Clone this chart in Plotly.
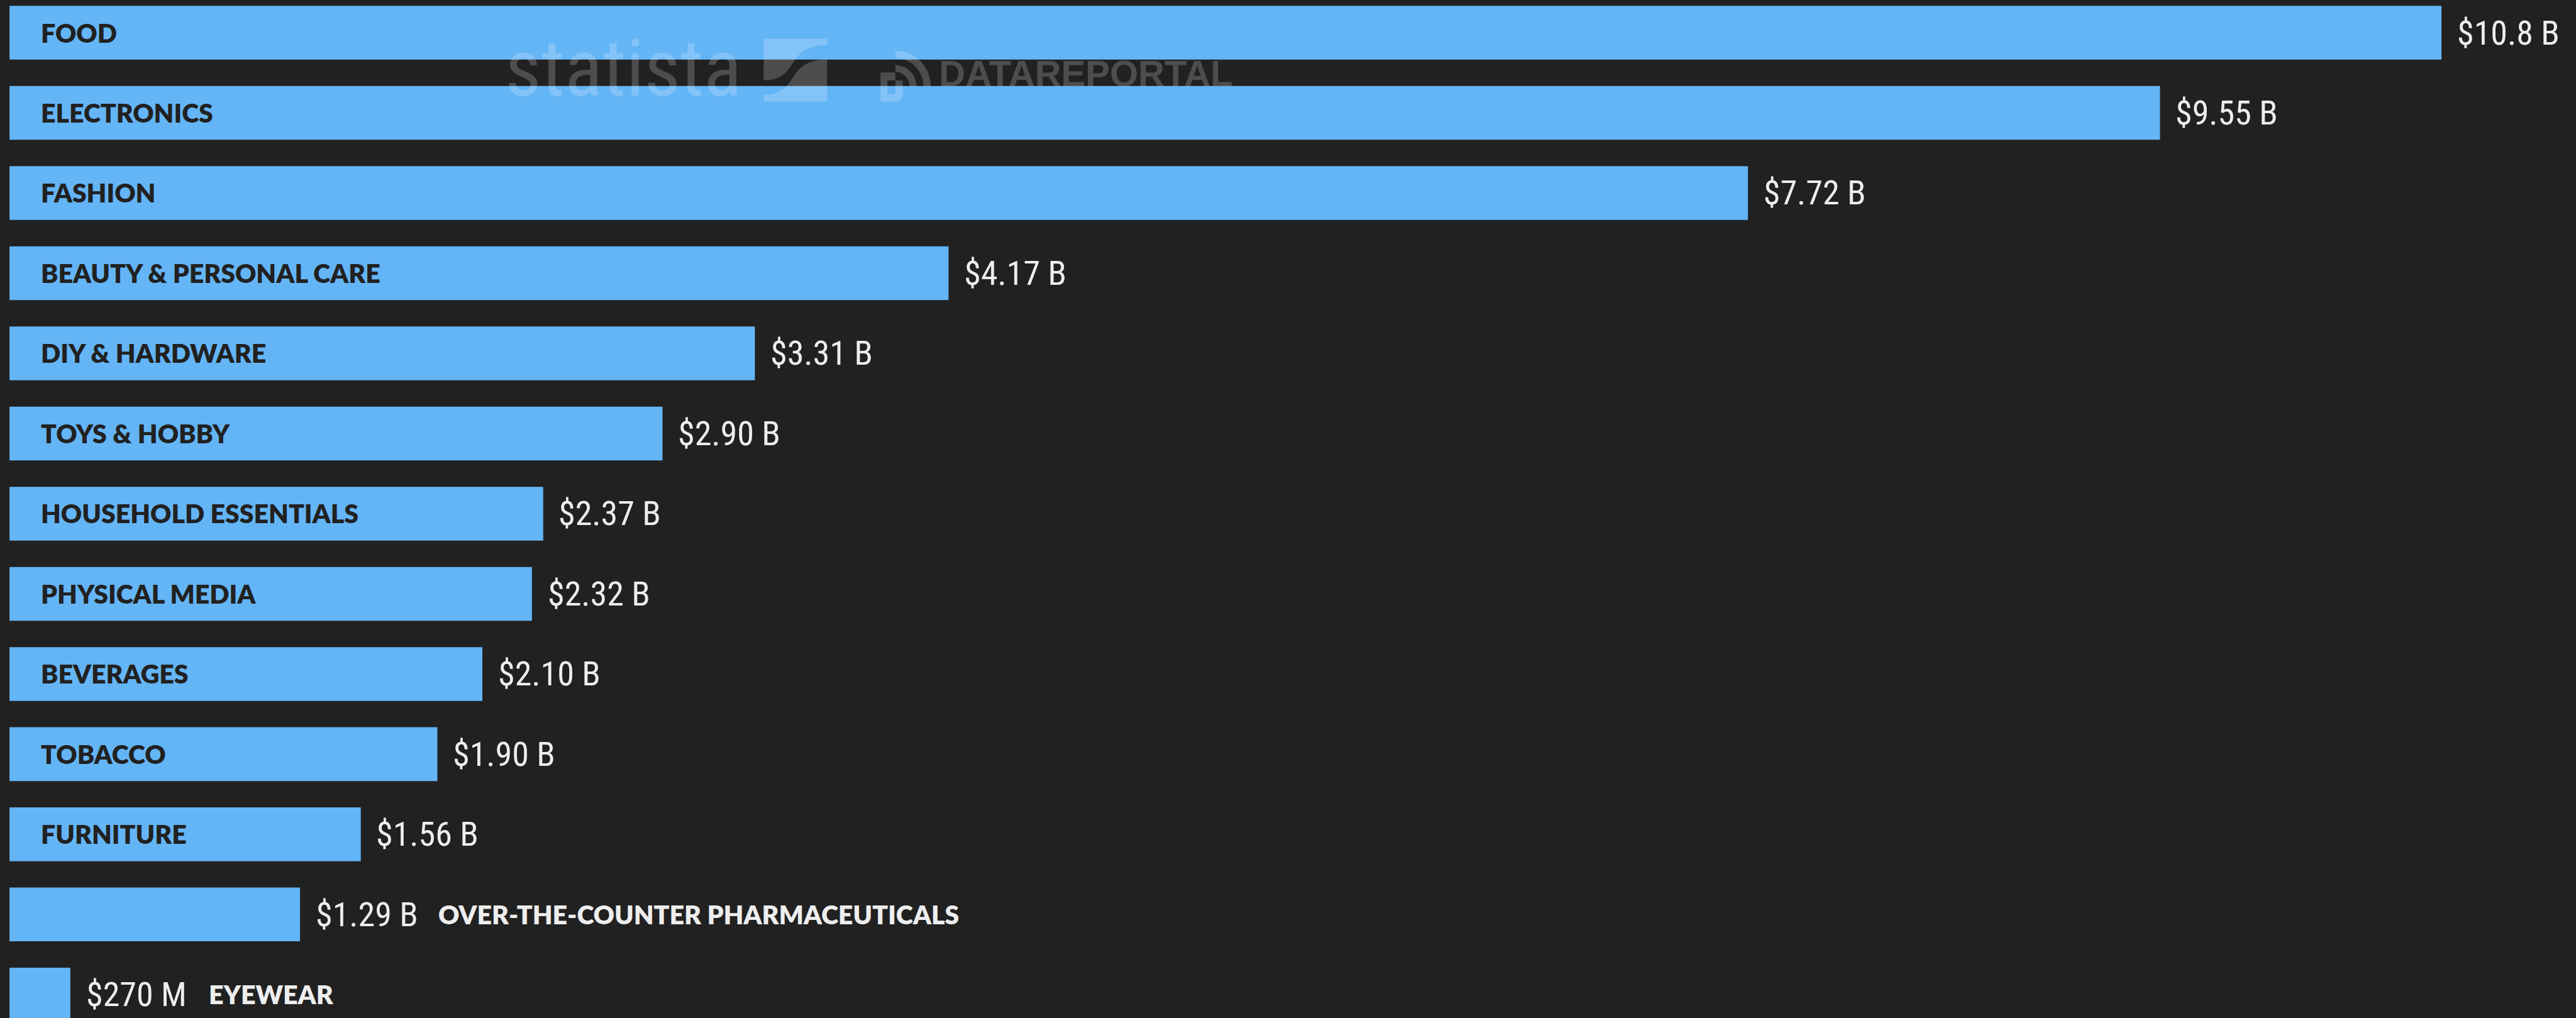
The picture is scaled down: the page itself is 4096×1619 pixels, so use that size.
import plotly.graph_objects as go

# Retail e-commerce spend by category (US$ billions)
categories = [
    "FOOD", "ELECTRONICS", "FASHION", "BEAUTY & PERSONAL CARE", "DIY & HARDWARE",
    "TOYS & HOBBY", "HOUSEHOLD ESSENTIALS", "PHYSICAL MEDIA", "BEVERAGES",
    "TOBACCO", "FURNITURE", "OVER-THE-COUNTER PHARMACEUTICALS", "EYEWEAR",
]
values_bn = [10.8, 9.55, 7.72, 4.17, 3.31, 2.90, 2.37, 2.32, 2.10, 1.90, 1.56, 1.29, 0.27]

W, H = 4096, 1619
S = W / 4871.0          # drawing scale
BG = "#212121"
BAR = "#64B5F6"
LIGHT = "#EEEEEE"
WM = "rgba(255,255,255,0.2)"

VALUE_FONT = "Roboto Condensed, DejaVu Sans Condensed, sans-serif"
LABEL_FONT = "Lato, Noto Sans, sans-serif"


def fmt_value(v):
    if v < 1:
        return f"${v * 1000:.0f} M"
    if v >= 10:
        return f"${v:.1f} B"
    return f"${v:.2f} B"


px_per_unit = 425.8     # bar length scale (px per billion, before scaling)
x0_px = 18.0            # bar baseline offset
x_range = [-x0_px / px_per_unit, (4871 - x0_px) / px_per_unit]
pitch = 151.58
first_center = 61.85
y_range = [(1925 - first_center) / pitch, -first_center / pitch]

fig = go.Figure(go.Bar(
    x=values_bn, y=categories, orientation="h",
    marker=dict(color=BAR, line=dict(width=0)),
    width=101.7 / pitch, hoverinfo="skip",
))

annotations = []
for cat, v in zip(categories, values_bn):
    bar_px = v * px_per_unit
    fits = bar_px > len(cat) * 31 + 90
    annotations.append(dict(
        x=v, y=cat, xref="x", yref="y", text=fmt_value(v), showarrow=False,
        xanchor="left", yanchor="middle", xshift=27 * S,
        font=dict(family=VALUE_FONT, size=54, color=LIGHT),
    ))
    if fits:
        annotations.append(dict(
            x=0, y=cat, xref="x", yref="y", text=cat, showarrow=False,
            xanchor="left", yanchor="middle", xshift=57 * S,
            font=dict(family=LABEL_FONT, size=41, color=BG, weight=800),
        ))
    else:
        annotations.append(dict(
            x=v, y=cat, xref="x", yref="y", text=cat, showarrow=False,
            xanchor="left", yanchor="middle", xshift=259 * S,
            font=dict(family=LABEL_FONT, size=41, color=LIGHT, weight=800),
        ))


def P(x, y):
    return f"{x / 4871:.6f},{1 - y / 1925:.6f}"


# watermark wordmarks
annotations.append(dict(
    x=952 / 4871, y=1 - 130 / 1925, xref="paper", yref="paper", text="statista",
    showarrow=False, xanchor="left", yanchor="middle",
    font=dict(family=VALUE_FONT, size=126, color=WM),
))
annotations.append(dict(
    x=1773 / 4871, y=1 - 138 / 1925, xref="paper", yref="paper", text="DATAREPORTAL",
    showarrow=False, xanchor="left", yanchor="middle",
    font=dict(family="Liberation Sans, sans-serif", size=58, color=WM, weight=700),
))


# statista mark: a square split by an S-shaped band
def s_curve(dy):
    pts = [(1564, 85), (1530, 85), (1512, 98), (1500, 118), (1488, 138), (1475, 152), (1444, 152)]
    return [(x, y + dy) for x, y in pts]


up = s_curve(0)
upper = (f"M{P(1444, 77)} Q{P(1444, 73)} {P(1448, 73)} L{P(1560, 73)} Q{P(1564, 73)} {P(1564, 77)} "
         f"L{P(*up[0])} C{P(*up[1])} {P(*up[2])} {P(*up[3])} C{P(*up[4])} {P(*up[5])} {P(*up[6])} Z")
lo = s_curve(27.5)
lower = (f"M{P(*lo[0])} C{P(*lo[1])} {P(*lo[2])} {P(*lo[3])} C{P(*lo[4])} {P(*lo[5])} {P(*lo[6])} "
         f"L{P(1444, 188)} Q{P(1444, 192)} {P(1448, 192)} L{P(1560, 192)} Q{P(1564, 192)} {P(1564, 188)} Z")

# datareportal mark: a "D" with two signal arcs
cx, cy = 1693, 163


def ring(R, r):
    k = 0.5523
    return (f"M{P(cx, cy - R)} C{P(cx + k * R, cy - R)} {P(cx + R, cy - k * R)} {P(cx + R, cy)} "
            f"L{P(cx + r, cy)} C{P(cx + r, cy - k * r)} {P(cx + k * r, cy - r)} {P(cx, cy - r)} Z")


d_mark = (f"M{P(1665, 137)} L{P(1693, 137)} L{P(1693, 152)} L{P(1707, 152)} L{P(1707, 178)} "
          f"C{P(1707, 186)} {P(1701, 192)} {P(1693, 192)} L{P(1665, 192)} Z "
          f"M{P(1678, 152)} L{P(1678, 178)} L{P(1693, 178)} L{P(1693, 152)} Z")

shapes = [
    dict(type="path", path=p, xref="paper", yref="paper", fillcolor=WM,
         line=dict(width=0), layer="above")
    for p in (upper, lower, d_mark, ring(40, 27), ring(67, 53))
]

fig.update_layout(
    width=W, height=H, margin=dict(l=0, r=0, t=0, b=0, pad=0),
    paper_bgcolor=BG, plot_bgcolor=BG, showlegend=False,
    xaxis=dict(range=x_range, showgrid=False, zeroline=False, showticklabels=False,
               fixedrange=True, visible=False),
    yaxis=dict(range=y_range, type="category", categoryorder="array",
               categoryarray=categories, showgrid=False, zeroline=False,
               showticklabels=False, fixedrange=True, visible=False),
    annotations=annotations, shapes=shapes,
)

fig.write_html("out.html")
